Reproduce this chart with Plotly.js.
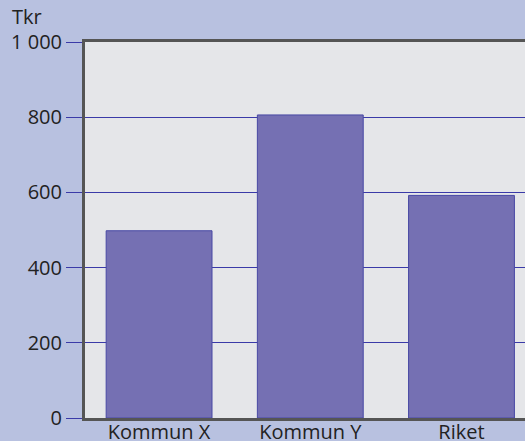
<!DOCTYPE html>
<html>
<head>
<meta charset="utf-8">
<script src="https://cdn.plot.ly/plotly-3.0.1.min.js"></script>
<style>html,body{margin:0;padding:0;overflow:hidden;background:#b8c1e0;}</style>
</head>
<body>
<div id="chart" style="width:525px;height:441px;"></div>
<script>
const categories = ["Kommun X", "Kommun Y", "Riket"];
const values = [498, 806, 592];
const yTickVals = [0, 200, 400, 600, 800, 1000];
const yUnit = "Tkr";

const data = [{
  type: "bar",
  x: categories,
  y: values,
  width: 0.7,
  marker: {color: "#7570b3", line: {color: "#4848a4", width: 1}},
  hoverinfo: "skip"
}];

const layout = {
  width: 525,
  height: 441,
  margin: {l: 85, r: 0, t: 42, b: 23, pad: 0},
  paper_bgcolor: "#b8c1e0",
  plot_bgcolor: "#e5e6e9",
  separators: ", ",
  font: {family: "Open Sans, sans-serif", size: 20, color: "#222222"},
  showlegend: false,
  bargap: 0.3,
  xaxis: {
    type: "category",
    range: [-0.49, 2.42],
    showline: true,
    mirror: true,
    linecolor: "#555555",
    linewidth: 3,
    ticks: "",
    ticklabelstandoff: -6,
    showgrid: false,
    zeroline: false,
    tickfont: {size: 20, color: "#222222"},
    fixedrange: true
  },
  yaxis: {
    range: [0, 1000],
    tickvals: yTickVals,
    tickformat: ",d",
    showline: true,
    linecolor: "#555555",
    linewidth: 3,
    ticks: "outside",
    ticklen: 16,
    tickcolor: "#3a3aa8",
    tickwidth: 1,
    showgrid: true,
    gridcolor: "#3a3aa8",
    gridwidth: 1,
    zeroline: false,
    tickfont: {size: 20, color: "#222222"},
    fixedrange: true
  },
  annotations: [{
    text: yUnit,
    xref: "paper", yref: "paper",
    x: 0, y: 1,
    xanchor: "left", yanchor: "bottom",
    xshift: -75, yshift: 10,
    showarrow: false,
    font: {size: 20, color: "#222222"}
  }]
};

Plotly.newPlot("chart", data, layout, {displayModeBar: false, staticPlot: true});
</script>
</body>
</html>
